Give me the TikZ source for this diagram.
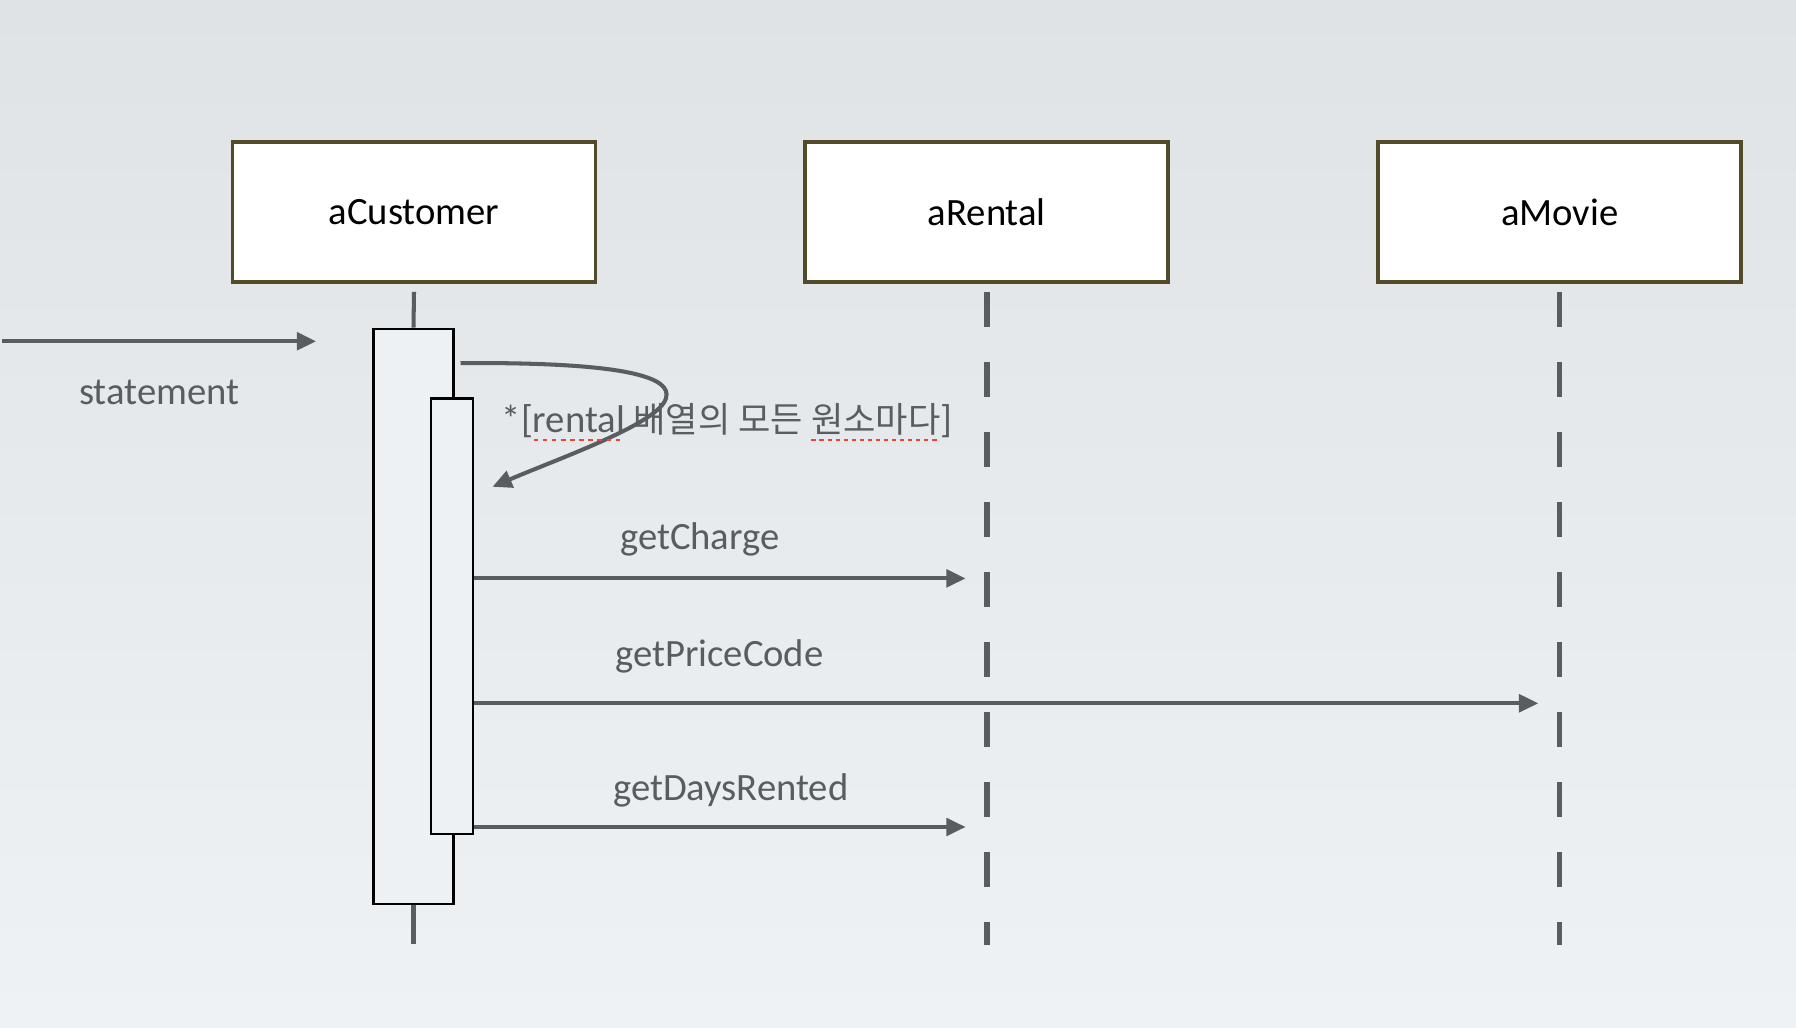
\documentclass[tikz,border=0pt]{standalone}
\usepackage{fontspec}
\setmainfont{Carlito}
\newfontfamily\krfont{Noto Sans CJK KR}
\usepackage{xcolor}
\usetikzlibrary{arrows.meta, positioning, calc}
\definecolor{boxline}{HTML}{524A28}
\definecolor{msg}{HTML}{5A5D5F}
\definecolor{actfill}{HTML}{EEF1F3}
\definecolor{bgtop}{HTML}{DFE3E6}
\definecolor{bgbot}{HTML}{EFF2F4}
\definecolor{spellred}{HTML}{E8473A}
\newcommand\spellmark[1]{\setbox0\hbox{#1}\rlap{\raisebox{-0.45ex}{\textcolor{spellred}{%
  \xleaders\hbox{\rule{0.12em}{0.12ex}\kern0.1em}\hskip\wd0}}}\box0\relax}

\begin{document}
\begin{tikzpicture}[node distance=2.06cm, >={Triangle[length=5.5pt,width=5pt]},
  obj/.style={draw=boxline, line width=1.1pt, fill=white, minimum width=3.63cm,
    minimum height=1.4cm, font=\fontsize{11}{13}\selectfont},
  act/.style={draw=black, line width=0.6pt, fill=actfill, inner sep=0pt},
  msgline/.style={draw=msg, line width=1.15pt},
  lifeline/.style={draw=msg, line width=1.5pt, dash pattern=on 0.35cm off 0.35cm},
  msglabel/.style={text=msg, font=\fontsize{11}{13}\selectfont}]
  \useasboundingbox (0,0) rectangle (17.96,10.28);
  \shade[top color=bgtop, bottom color=bgbot] (0,0) rectangle (17.96,10.28);
  % objects
  \node[obj] (cust) at (4.14,8.16) {aCustomer};
  \node[obj] (rent) [right=of cust] {aRental};
  \node[obj] (movie) [right=of rent] {aMovie};
  % activations
  \node[act, minimum width=0.8cm, minimum height=5.75cm] (outer) at (4.135,4.118) {};
  \node[act, minimum width=0.423cm, minimum height=4.353cm] (inner) at (4.518,4.118) {};
  % lifelines
  \coordinate (custtop) at ($(cust.south)+(0,-0.08)$);
  \coordinate (custbot) at ($(outer.south)+(0,-0.39)$);
  \draw[msgline] (custtop) -- (outer.north);
  \draw[msgline] (outer.south) -- (custbot);
  \draw[lifeline] ($(rent.south)+(0,-0.08)$) -- ++(0,-6.53);
  \draw[lifeline] ($(movie.south)+(0,-0.08)$) -- ++(0,-6.53);
  % messages
  \coordinate (in) at (0.023,6.867);
  \coordinate (inend) at (3.161,6.867);
  \draw[msgline,->] (in) -- (inend);
  \node[msglabel] (stmt) at (1.592,6.351) {statement};
  \coordinate (loopA) at (4.605,6.649);
  \coordinate (loopB) at (4.925,5.412);
  \draw[msgline,->] (loopA) .. controls (6.3,6.66) and (6.72,6.5) .. (6.66,6.3)
    .. controls (6.6,6.05) and (5.6,5.7) .. (loopB);
  \node[msglabel] (guard) at (7.27,6.054)
    {*[\spellmark{rental} {\krfont\fontsize{10}{12}\selectfont 배열의 모든 \spellmark{원소마다}}]};
  \coordinate (c1) at (9.656,4.496);
  \coordinate (c2) at (15.383,3.247);
  \coordinate (c3) at (9.656,2.010);
  \draw[msgline,->] (inner.east |- c1) -- (c1);
  \draw[msgline,->] (inner.east |- c2) -- (c2);
  \draw[msgline,->] (inner.east |- c3) -- (c3);
  \node[msglabel] (l1) at (6.998,4.885) {getCharge};
  \node[msglabel] (l2) at (7.193,3.717) {getPriceCode};
  \node[msglabel] (l3) at (7.308,2.377) {getDaysRented};
\end{tikzpicture}
\end{document}
